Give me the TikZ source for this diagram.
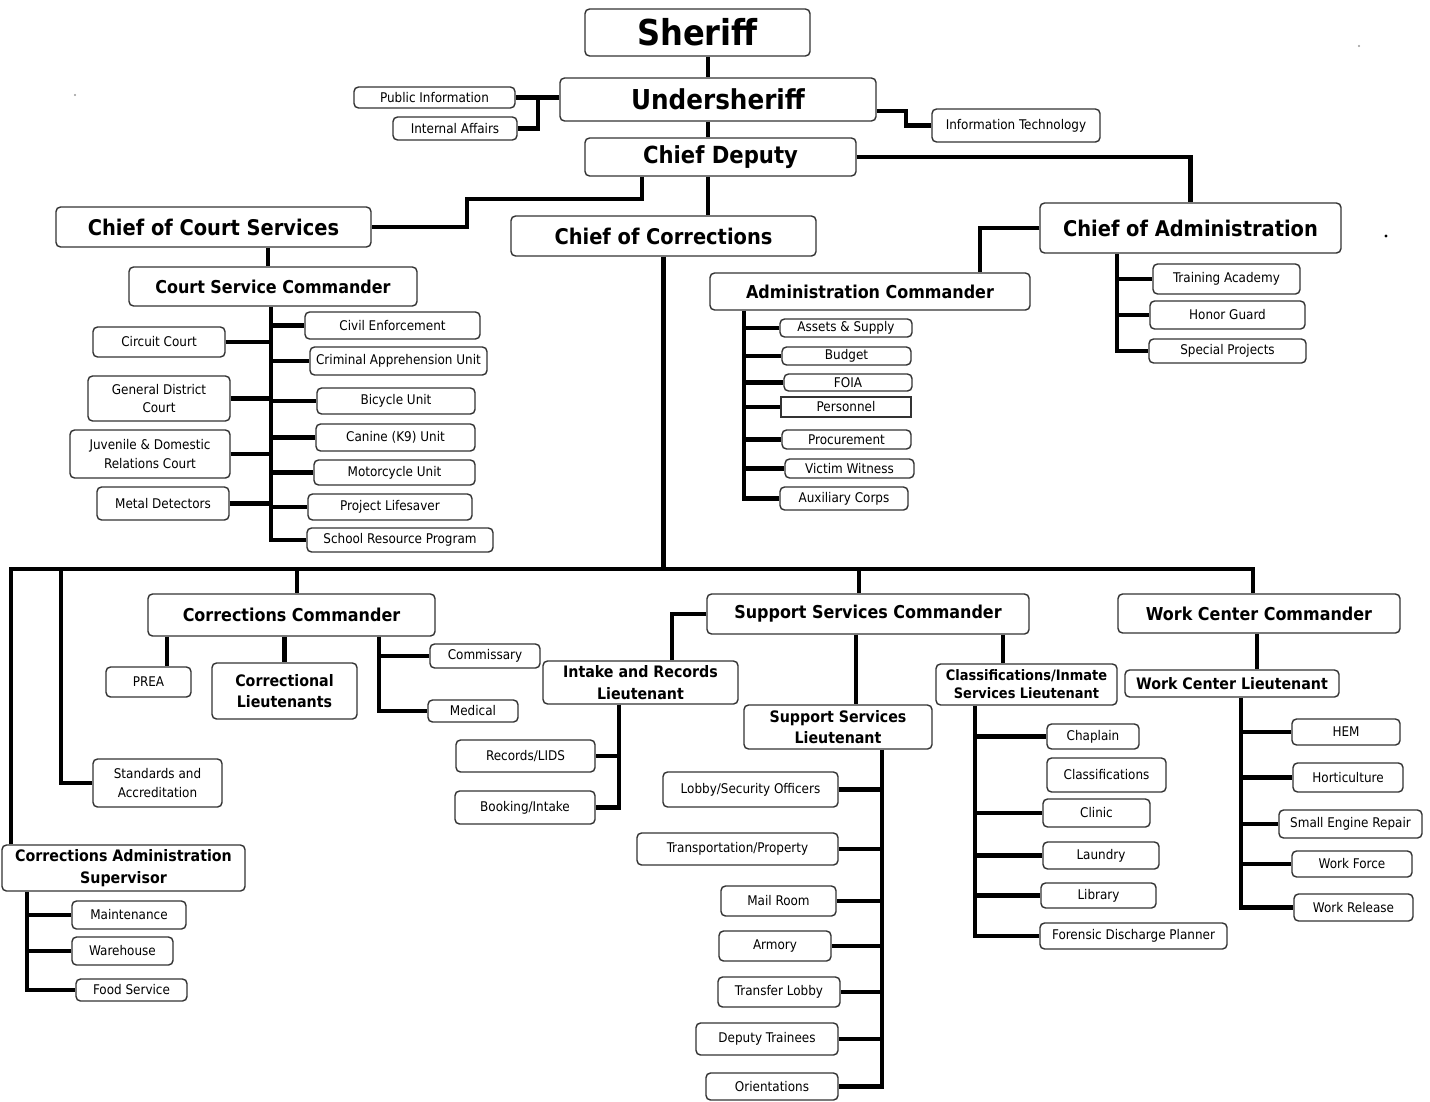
\documentclass[tikz,border=0pt]{standalone}
\usepackage{fontspec}
\setmainfont{DejaVu Sans Condensed}
\begin{document}
\begin{tikzpicture}[
	x=0.02cm,
	y=-0.02cm,
	wh/.style 2 args={
		minimum width = #1*0.02cm,
		minimum height = #2*0.02cm
	},
	box/.style={
		draw=black!80,
		rectangle,
		rounded corners=0.09cm,
		line width=0.8pt,
		inner sep =+ 0pt,
		align=center,
		font=\fontsize{7.6}{10.5}\selectfont
	},
	lt/.style={box, font=\bfseries\fontsize{9}{12.2}\selectfont},
	cmd/.style={box, font=\bfseries\fontsize{10.1}{12}\selectfont},
	chief/.style={box, font=\bfseries\fontsize{12.3}{14}\selectfont},
	link/.style={line width=2.7pt}
]
\useasboundingbox[fill=white] (0,0) rectangle (1430,1102);

\node[box, wh={225}{47}, font=\bfseries\fontsize{20.3}{22}\selectfont] (sheriff) at (697.5,32.5) {Sheriff};
\node[box, wh={316}{43}, font=\bfseries\fontsize{15.6}{18}\selectfont] (under) at (718,99.5) {Undersheriff};
\node[box, wh={271}{38}, font=\bfseries\fontsize{13.4}{16}\selectfont] (deputy) at (720.5,157) {Chief Deputy};
\node[box, wh={161}{21}] (pubinfo) at (434.5,97.5) {Public Information};
\node[box, wh={124}{23}] (intaff) at (455,128.5) {Internal Affairs};
\node[box, wh={168}{33}] (infotech) at (1016,125.5) {Information Technology};

\node[chief, wh={315}{40}] (courtchief) at (213.5,227) {Chief of Court Services};
\node[chief, wh={305}{40}] (corrchief) at (663.5,236) {Chief of Corrections};
\node[chief, wh={301}{50}] (adminchief) at (1190.5,228) {Chief of Administration};
\node[cmd, wh={288}{39}] (courtcmd) at (273,286.5) {Court Service Commander};
\node[cmd, wh={320}{37}] (admincmd) at (870,291.5) {Administration Commander};

\node[box, wh={132}{30}] (circuit) at (159,342) {Circuit Court};
\node[box, wh={142}{45}] (gdc) at (159,398.5) {General District\\Court};
\node[box, wh={160}{48}] (jdr) at (150,454) {Juvenile \& Domestic\\Relations Court};
\node[box, wh={132}{33}] (metal) at (163,503.5) {Metal Detectors};
\node[box, wh={175}{27}] (civil) at (392.5,325.5) {Civil Enforcement};
\node[box, wh={177}{28}] (cau) at (398.5,361) {Criminal Apprehension Unit};
\node[box, wh={158}{26}] (bike) at (396,401) {Bicycle Unit};
\node[box, wh={159}{27}] (canine) at (395.5,437.5) {Canine (K9) Unit};
\node[box, wh={161}{25}] (moto) at (394.5,472.5) {Motorcycle Unit};
\node[box, wh={164}{26}] (life) at (390,507) {Project Lifesaver};
\node[box, wh={186}{24}] (school) at (400,540) {School Resource Program};

\node[box, wh={132}{18}] (assets) at (846,328) {Assets \& Supply};
\node[box, wh={129}{18}] (budget) at (846.5,356) {Budget};
\node[box, wh={128}{17}] (foia) at (848,382.5) {FOIA};
\node[box, wh={130}{20}, rounded corners=0pt] (personnel) at (846,407) {Personnel};
\node[box, wh={129}{19}] (procure) at (846.5,439.5) {Procurement};
\node[box, wh={129}{19}] (victim) at (849.5,468.5) {Victim Witness};
\node[box, wh={128}{23}] (aux) at (844,498.5) {Auxiliary Corps};

\node[box, wh={147}{30}] (training) at (1226.5,279) {Training Academy};
\node[box, wh={155}{28}] (honor) at (1227.5,315) {Honor Guard};
\node[box, wh={157}{24}] (special) at (1227.5,351) {Special Projects};

\node[cmd, wh={287}{42}] (corrcmd) at (291.5,615) {Corrections Commander};
\node[box, wh={85}{30}] (prea) at (148.5,682) {PREA};
\node[lt, wh={145}{56}] (corrlt) at (284.5,691) {Correctional\\Lieutenants};
\node[box, wh={110}{24}] (commiss) at (485,656) {Commissary};
\node[box, wh={90}{22}] (medical) at (473,711) {Medical};
\node[box, wh={129}{48}] (standards) at (157.5,783) {Standards and\\Accreditation};
\node[lt, wh={243}{46}] (cas) at (123.5,868) {Corrections Administration\\Supervisor};
\node[box, wh={114}{28}] (maint) at (129,915) {Maintenance};
\node[box, wh={101}{28}] (ware) at (122.5,951) {Warehouse};
\node[box, wh={111}{22}] (food) at (131.5,990) {Food Service};

\node[cmd, wh={322}{40}] (sscmd) at (868,614) {Support Services Commander};
\node[lt, wh={195}{43}] (intake) at (640.5,682.5) {Intake and Records\\Lieutenant};
\node[box, wh={139}{32}] (records) at (525.5,756) {Records/LIDS};
\node[box, wh={140}{33}] (booking) at (525,807.5) {Booking/Intake};
\node[lt, wh={188}{44}] (sslt) at (838,727) {Support Services\\Lieutenant};
\node[lt, wh={181}{41}, font=\bfseries\fontsize{8.2}{10.2}\selectfont] (classlt) at (1026.5,684.5) {Classifications/Inmate\\Services Lieutenant};
\node[box, wh={175}{35}] (lobby) at (750.5,789.5) {Lobby/Security Officers};
\node[box, wh={201}{32}] (transport) at (737.5,849) {Transportation/Property};
\node[box, wh={115}{30}] (mail) at (778.5,901) {Mail Room};
\node[box, wh={112}{30}] (armory) at (775,946) {Armory};
\node[box, wh={122}{30}] (transfer) at (779,992) {Transfer Lobby};
\node[box, wh={142}{32}] (trainees) at (767,1039) {Deputy Trainees};
\node[box, wh={132}{27}] (orient) at (772,1086.5) {Orientations};

\node[box, wh={92}{25}] (chaplain) at (1093,736.5) {Chaplain};
\node[box, wh={119}{34}] (classif) at (1106.5,775) {Classifications};
\node[box, wh={107}{28}] (clinic) at (1096.5,813) {Clinic};
\node[box, wh={116}{27}] (laundry) at (1101,855.5) {Laundry};
\node[box, wh={115}{25}] (library) at (1098.5,895.5) {Library};
\node[box, wh={187}{26}] (forensic) at (1133.5,936) {Forensic Discharge Planner};

\node[cmd, wh={282}{39}] (wccmd) at (1259,613.5) {Work Center Commander};
\node[lt, wh={214}{27}] (wclt) at (1232,683.5) {Work Center Lieutenant};
\node[box, wh={108}{26}] (hem) at (1346,732) {HEM};
\node[box, wh={110}{29}] (hort) at (1348,777.5) {Horticulture};
\node[box, wh={143}{28}] (engine) at (1350.5,824) {Small Engine Repair};
\node[box, wh={120}{26}] (force) at (1352,864) {Work Force};
\node[box, wh={119}{27}] (release) at (1353.5,907.5) {Work Release};

\coordinate (cbend) at (467,199);
\coordinate (itbend) at (906,111);
\coordinate (bus) at (663,569);

\draw[link] (708,0 |- sheriff.south) -- (708,0 |- under.north);
\draw[link] (708,0 |- under.south) -- (708,0 |- deputy.north);
\draw[link] (pubinfo.east) -- (pubinfo.east -| under.west);
\draw[link] (538,0 |- pubinfo.east) |- (intaff.east);
\draw[link] (under.east |- itbend) -- (itbend) |- (infotech.west);
\draw[link] (deputy.east) -| (adminchief.north);
\draw[link] (642,0 |- deputy.south) |- (cbend) |- (courtchief.east);
\draw[link] (708,0 |- deputy.south) -- (708,0 |- corrchief.north);
\draw[link] (268,0 |- courtchief.south) -- (268,0 |- courtcmd.north);
\draw[link] (adminchief.west) -| (980,0 |- admincmd.north);
\draw[link] (corrchief.south) -- (corrchief.south |- bus);

\draw[link] (271,0 |- courtcmd.south) |- (school.west);
\foreach \n in {civil,cau,bike,canine,moto,life}
	\draw[link] (271,0 |- \n.west) -- (\n.west);
\foreach \n in {circuit,gdc,jdr,metal}
	\draw[link] (\n.east) -- (271,0 |- \n.east);

\draw[link] (744,0 |- admincmd.south) |- (aux.west);
\foreach \n in {assets,budget,foia,personnel,procure,victim}
	\draw[link] (744,0 |- \n.west) -- (\n.west);

\draw[link] (1117,0 |- adminchief.south) |- (special.west);
\foreach \n in {training,honor}
	\draw[link] (1117,0 |- \n.west) -- (\n.west);

\draw[link] (11,0 |- cas.north) -- (11,0 |- bus) -- (1253,0 |- bus) -- (1253,0 |- wccmd.north);
\draw[link] (61,0 |- bus) |- (standards.west);
\draw[link] (297,0 |- bus) -- (297,0 |- corrcmd.north);
\draw[link] (859,0 |- bus) -- (859,0 |- sscmd.north);

\draw[link] (167,0 |- corrcmd.south) -- (167,0 |- prea.north);
\draw[link] (corrlt.north |- corrcmd.south) -- (corrlt.north);
\draw[link] (379,0 |- corrcmd.south) |- (medical.west);
\draw[link] (379,0 |- commiss.west) -- (commiss.west);

\draw[link] (27,0 |- cas.south) |- (food.west);
\foreach \n in {maint,ware}
	\draw[link] (27,0 |- \n.west) -- (\n.west);

\draw[link] (sscmd.west) -| (672,0 |- intake.north);
\draw[link] (619,0 |- intake.south) |- (booking.east);
\draw[link] (619,0 |- records.east) -- (records.east);
\draw[link] (856,0 |- sscmd.south) -- (856,0 |- sslt.north);
\draw[link] (1003,0 |- sscmd.south) -- (1003,0 |- classlt.north);

\draw[link] (882,0 |- sslt.south) |- (orient.east);
\foreach \n in {lobby,transport,mail,armory,transfer,trainees}
	\draw[link] (882,0 |- \n.east) -- (\n.east);

\draw[link] (975,0 |- classlt.south) |- (forensic.west);
\foreach \n in {chaplain,clinic,laundry,library}
	\draw[link] (975,0 |- \n.west) -- (\n.west);

\draw[link] (1257,0 |- wccmd.south) -- (1257,0 |- wclt.north);
\draw[link] (1241,0 |- wclt.south) |- (release.west);
\foreach \n in {hem,hort,engine,force}
	\draw[link] (1241,0 |- \n.west) -- (\n.west);

\fill[black!40] (75,95) circle (1.2);
\fill[black!40] (1359,46) circle (1.2);
\fill (1386,236) circle (1.6);

\end{tikzpicture}
\end{document}
